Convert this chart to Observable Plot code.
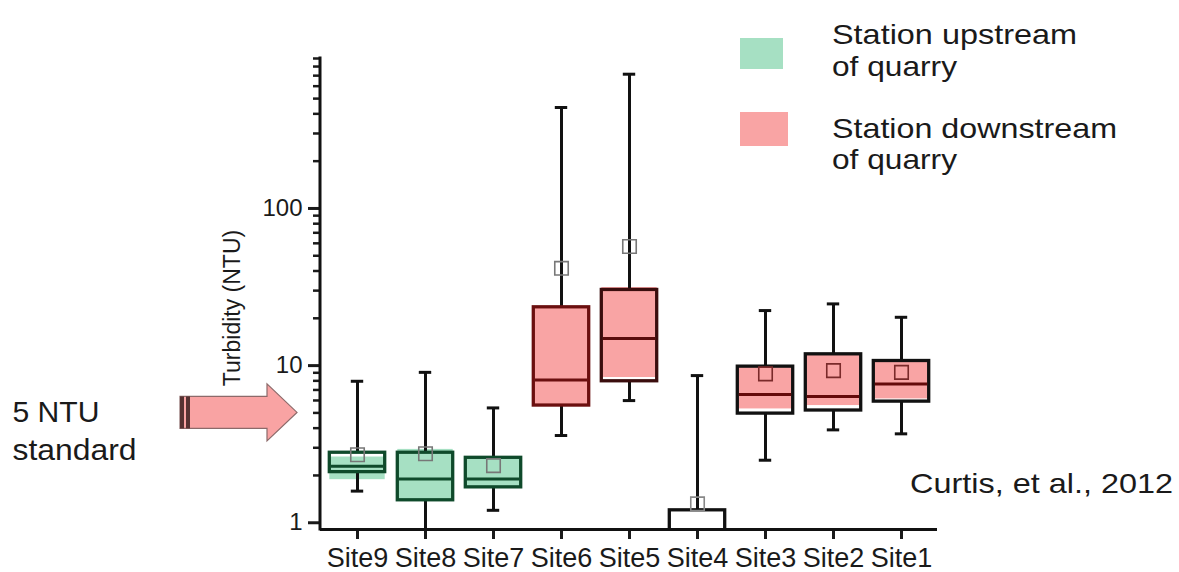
<!DOCTYPE html>
<html><head><meta charset="utf-8">
<script src="https://cdn.jsdelivr.net/npm/d3@7"></script>
<script src="https://cdn.jsdelivr.net/npm/@observablehq/plot@0.6"></script>
<style>
html,body{margin:0;padding:0;background:#fff;}
#chart{position:relative;width:1179px;height:572px;overflow:hidden;}
</style></head><body><div id="chart"></div>
<script>
// ---- data ----
const sites     = ["Site9","Site8","Site7","Site6","Site5","Site4","Site3","Site2","Site1"];
const groups    = ["upstream","upstream","upstream","downstream","downstream","other","downstream","downstream","downstream"];
const whiskerLo = [1.59, 0.85, 1.20, 3.59, 5.99, 0.85, 2.50, 3.90, 3.68];
const q1        = [2.10, 1.39, 1.68, 5.57, 7.95, 0.85, 4.95, 5.18, 5.90];
const median    = [2.29, 1.90, 1.90, 8.11, 14.9, null, 6.54, 6.35, 7.65];
const q3        = [2.79, 2.79, 2.59, 23.5, 30.3, 1.20, 9.85, 11.8, 10.7];
const whiskerHi = [7.95, 9.06, 5.38, 439, 715, 8.64, 22.4, 24.7, 20.3];
const mean      = [2.71, 2.75, 2.31, 41.6, 57.3, 1.32, 8.86, 9.29, 9.06];
const fillLo    = [1.88, 1.38, 1.66, 5.57, 8.40, null, 5.30, 5.57, 6.14];
const fillHi    = [2.62, 2.93, 2.62, 23.5, 31.4, null, 9.76, 11.8, 10.5];
const majorTicks = [1, 10, 100];
const minorTicks = [2,3,4,5,6,7,8,9,20,30,40,50,60,70,80,90,200,300,400,500,600,700,800,900];
const standardNTU = 5;
const legendLabels = [["Station upstream","of quarry"],["Station downstream","of quarry"]];
const legendGroups = ["upstream","downstream"];
const standardLabel = ["5 NTU","standard"];
const yLabel = "Turbidity (NTU)";
const caption = "Curtis, et al., 2012";

const rows = sites.map((site,i)=>({site, group:groups[i], lo:whiskerLo[i], q1:q1[i], med:median[i],
  q3:q3[i], hi:whiskerHi[i], mean:mean[i], fLo:fillLo[i], fHi:fillHi[i]}));

// ---- styles ----
const FILL = {upstream:"#a6e0c3", downstream:"#f9a4a4", other:"#ffffff"};
const OUTLINE = {upstream:"#0f4a2b", Site6:"#6b0f0f", Site5:"#3a0d0d", other:"#111111", Site3:"#111111", Site2:"#111111", Site1:"#111111"};
const MEDIAN = {upstream:"#0f4a2b", Site6:"#6b0f0f", Site5:"#5a0d0d", other:"#111111", Site3:"#650a0a", Site2:"#650a0a", Site1:"#650a0a"};
const MEAN = {upstream:"#777777", Site6:"#777777", Site5:"#777777", other:"#888888", Site3:"#7a2a2a", Site2:"#7a2a2a", Site1:"#7a2a2a"};
const pick = (m,d) => m[d.site] ?? m[d.group];
const FONT = "'Liberation Sans', Arial, sans-serif";
const boxInset = 6.3, capInset = 27.8;

const plot = Plot.plot({
  width:1179, height:572, marginLeft:320, marginRight:242, marginTop:58, marginBottom:43,
  style:{fontFamily:FONT, fontSize:"24px", color:"#1a1a1a", background:"#fff", overflow:"visible"},
  x:{type:"band", domain:sites, padding:0, label:null},
  y:{type:"log", domain:[0.906, 900], label:null},
  color:{type:"identity"},
  marks:[
    Plot.barY(rows.filter(d=>d.fLo!=null), {x:"site", y1:"fLo", y2:"fHi", fill:d=>FILL[d.group], insetLeft:boxInset, insetRight:boxInset, clip:true}),
    Plot.ruleX(rows, {x:"site", y1:"q3", y2:"hi", stroke:"#111", strokeWidth:3, clip:true}),
    Plot.ruleX(rows, {x:"site", y1:"lo", y2:"q1", stroke:"#111", strokeWidth:3, clip:true}),
    Plot.tickY(rows, {x:"site", y:"hi", stroke:"#111", strokeWidth:3, insetLeft:capInset, insetRight:capInset, clip:true}),
    Plot.tickY(rows, {x:"site", y:"lo", stroke:"#111", strokeWidth:3, insetLeft:capInset, insetRight:capInset, clip:true}),
    Plot.barY(rows, {x:"site", y1:"q1", y2:"q3", fill:"none", stroke:d=>pick(OUTLINE,d), strokeWidth:3.3, insetLeft:boxInset, insetRight:boxInset, clip:true}),
    Plot.tickY(rows.filter(d=>d.med!=null), {x:"site", y:"med", stroke:d=>pick(MEDIAN,d), strokeWidth:3, insetLeft:boxInset+1.5, insetRight:boxInset+1.5}),
    Plot.dot(rows, {x:"site", y:"mean", symbol:"square", r:7.6, fill:"none", stroke:d=>pick(MEAN,d), strokeWidth:1.6}),
    Plot.axisY({ticks:majorTicks, tickFormat:d=>String(d), tickSize:12, tickPadding:6, strokeWidth:3, fontSize:24, label:null}),
    Plot.axisY({ticks:minorTicks, tickFormat:()=>"", tickSize:7, strokeWidth:2.5, label:null}),
    Plot.axisX({tickSize:10, tickPadding:8, strokeWidth:3, fontSize:27, label:null}),
    Plot.ruleY([0.906], {stroke:"#111", strokeWidth:3})
  ]
});
document.getElementById("chart").appendChild(plot);

// ---- annotations drawn in the same SVG ----
const y = plot.scale("y");
const svg = d3.select(plot);
const g = svg.append("g").attr("font-family", FONT).attr("fill", "#1a1a1a").attr("text-anchor","start");

// y axis line
g.append("line").attr("x1",320).attr("x2",320).attr("y1",y.apply(900)-1.5).attr("y2",y.apply(0.906)+1.5)
  .attr("stroke","#111").attr("stroke-width",3);

// y label
g.append("text").attr("transform",`translate(240,308) rotate(-90)`).attr("text-anchor","middle")
  .attr("font-size",23).text(yLabel);

// arrow at the 5 NTU standard
const ty = y.apply(standardNTU);
const arrow = [[180,ty-16],[267,ty-16],[267,ty-28.5],[297,ty],[267,ty+28.5],[267,ty+16],[180,ty+16]];
g.append("path").attr("d", d3.line()(arrow)+"Z").attr("fill","#f9a3a3").attr("stroke","#8c6a6a").attr("stroke-width",1.2);
g.append("rect").attr("x",180).attr("y",ty-16).attr("width",4).attr("height",32).attr("fill","#563232");
g.append("rect").attr("x",186).attr("y",ty-16).attr("width",4).attr("height",32).attr("fill","#563232");

function txt(x, yy, s, size, len){
  const t = g.append("text").attr("x",x).attr("y",yy).attr("font-size",size).attr("text-anchor","start").text(s);
  if (len) t.attr("textLength",len).attr("lengthAdjust","spacingAndGlyphs");
  return t;
}
txt(12.5, 421.5, standardLabel[0], 30, 87);
txt(12.5, 460, standardLabel[1], 30, 124);

// legend
const sw = [{x:740,y:38,w:43,h:31},{x:740,y:112,w:48,h:34}];
legendGroups.forEach((grp,i)=>{
  g.append("rect").attr("x",sw[i].x).attr("y",sw[i].y).attr("width",sw[i].w).attr("height",sw[i].h).attr("fill",FILL[grp]);
});
txt(832, 43.5, legendLabels[0][0], 28, 245);
txt(832, 76, legendLabels[0][1], 28, 125);
txt(832, 137.5, legendLabels[1][0], 28, 285);
txt(832, 169, legendLabels[1][1], 28, 125);

// caption
txt(910, 493, caption, 28, 263);
</script>
</body></html>
